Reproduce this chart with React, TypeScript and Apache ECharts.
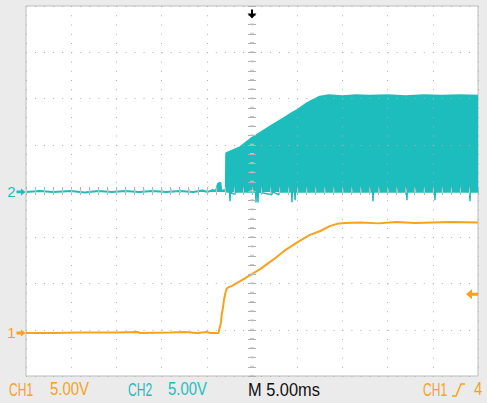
import React, { useEffect, useRef } from 'react';
import * as echarts from 'echarts';

// Scope settings
const TIME_PER_DIV_MS = 5;
const VOLTS_PER_DIV = 5;
const H_DIVS = 10;
const V_DIVS = 8;
const CH1_POSITION_DIV = -3.07; // ground marker of CH1, in divisions from screen centre
const CH2_POSITION_DIV = -0.02;
const CH1_TRIGGER_LEVEL_V = 4.2;

const CH1_COLOR = '#f6a21d';
const CH2_COLOR = '#1dbdbd';
const GRID_DOT = '#b0b0b0';
const CENTRE_TICK = '#c6c6c6';
const FONT = '"Liberation Sans", Arial, sans-serif';

// CH1 trace: [time ms, volts]
const ch1Trace: [number, number][] = [
  [-25, 0], [-22, 0], [-19, 0.05], [-15, 0.05], [-12.6, 0.1], [-12.4, 0], [-9, 0.05],
  [-7.5, 0.1], [-6, 0], [-5, 0.1], [-4.6, 0], [-3.7, 0],
  [-3.6, 0.5], [-3.45, 1.0], [-3.35, 2.0], [-3.2, 2.8], [-3.1, 3.6], [-2.95, 4.3],
  [-2.8, 4.8], [-2.6, 4.95], [-2.2, 5.1], [-1.3, 5.6], [-0.2, 6.25], [0.9, 6.9],
  [2.3, 7.9], [3.6, 8.9], [5.0, 9.8], [6.4, 10.6], [7.5, 11.0], [8.6, 11.55],
  [9.4, 11.8], [10.3, 11.9], [12, 11.95], [14, 11.85], [16, 12.0], [18, 11.9],
  [20, 11.95], [22, 12.0], [25, 11.95],
];

// CH2 trace envelope (switching band): [time ms, volts]
const ch2Envelope: [number, number][] = [
  [-25, 0], [-23.5, 0.1], [-22, 0], [-20, 0.1], [-18.5, -0.05], [-17, 0.1], [-15.5, 0],
  [-14, 0.1], [-12.5, 0], [-11, 0.1], [-9.5, 0], [-8, 0.1], [-6.5, 0], [-5.5, 0.15],
  [-4.9, 0], [-4.4, 0.2], [-4.0, 0.1], [-3.75, 0.9], [-3.5, 1.0], [-3.4, 0.1],
  [-3.1, 0.2], [-2.9, 0.1],
  [-2.85, 4.2], [-2.2, 4.45], [-1.3, 4.85], [-0.2, 5.7], [0.9, 6.4], [2.3, 7.25],
  [3.4, 7.9], [4.2, 8.4], [5.0, 8.85], [6.1, 9.6], [7.0, 10.05], [7.5, 10.3],
  [8.5, 10.45], [10, 10.35], [11.5, 10.45], [13, 10.4], [15, 10.45], [17, 10.35],
  [19, 10.45], [21, 10.4], [23, 10.45], [25, 10.4],
];

// CH2 lower edge of the band with switching spikes: [time ms, volts]
const ch2Spikes: [number, number][] = [
  [-2.85, 0], [-2.47, 0], [-2.43, -1.0], [-2.39, 0], [-1.9, -0.3], [-1.85, 0],
  [0.4, 0], [0.44, -1.15], [0.48, 0], [0.62, 0], [0.66, -1.15], [0.7, 0],
  [2.2, -0.3], [2.25, 0], [3.0, -0.3], [3.05, 0], [4.38, 0], [4.42, -1.1], [4.46, 0],
  [4.72, 0], [4.76, -0.9], [4.8, 0], [13.34, 0], [13.38, -1.0], [13.42, 0],
  [17.1, 0], [17.14, -0.9], [17.18, 0], [20.2, 0], [20.24, -0.9], [20.28, 0],
  [24.07, 0], [24.11, -1.0], [24.15, 0], [25, 0],
];

const statusTexts = [
  { text: 'CH1', x: 9, color: CH1_COLOR, scale: 0.67 },
  { text: '5.00V', x: 50, color: CH1_COLOR, scale: 0.83 },
  { text: 'CH2', x: 128, color: CH2_COLOR, scale: 0.67 },
  { text: '5.00V', x: 168, color: CH2_COLOR, scale: 0.83 },
  { text: 'M 5.00ms', x: 248, color: '#111111', scale: 0.91 },
  { text: 'CH1', x: 423, color: CH1_COLOR, scale: 0.67 },
  { text: '4', x: 474, color: CH1_COLOR, scale: 0.83 },
];

const xHalf = (H_DIVS / 2) * TIME_PER_DIV_MS;
const yHalf = V_DIVS / 2;

const tickStyle = { color: GRID_DOT, width: 1 };

function edgeX(position: 'top' | 'bottom', withGrid: boolean) {
  return {
    type: 'value',
    min: -xHalf,
    max: xHalf,
    interval: TIME_PER_DIV_MS,
    position,
    z: 3,
    axisLine: { show: false },
    axisLabel: { show: false },
    axisTick: { show: true, inside: true, length: 4, lineStyle: tickStyle },
    minorTick: { show: true, splitNumber: 5, length: 4, lineStyle: tickStyle },
    splitLine: { show: withGrid, lineStyle: { color: GRID_DOT, width: 1, type: [1, 8.25] } },
  };
}

function edgeY(position: 'left' | 'right', withGrid: boolean) {
  return {
    type: 'value',
    min: -yHalf,
    max: yHalf,
    interval: 1,
    position,
    z: 3,
    axisLine: { show: false },
    axisLabel: { show: false },
    axisTick: { show: true, inside: true, length: 4, lineStyle: tickStyle },
    minorTick: { show: true, splitNumber: 5, length: 4, lineStyle: tickStyle },
    splitLine: { show: withGrid, lineStyle: { color: GRID_DOT, width: 1, type: [1, 8.04] } },
  };
}

function channelAxis(positionDiv: number) {
  return {
    type: 'value',
    show: false,
    min: (-yHalf - positionDiv) * VOLTS_PER_DIV,
    max: (yHalf - positionDiv) * VOLTS_PER_DIV,
  };
}

const rightArrow = 'path://M0,3 L5,3 L5,0 L10,5 L5,10 L5,7 L0,7 Z';
const leftArrow = 'path://M0,5 L6,0 L6,3.5 L12,3.5 L12,6.5 L6,6.5 L6,10 Z';
const downArrow = 'path://M3.5,0 L5.5,0 L5.5,4 L9,4 L4.5,9 L0,4 L3.5,4 Z';

function buildOption() {
  return {
    animation: false,
    backgroundColor: '#ebebeb',
    grid: {
      left: 26,
      top: 6,
      width: 452,
      height: 370,
      show: true,
      backgroundColor: '#ffffff',
      borderColor: '#bdbdbd',
      borderWidth: 1,
    },
    xAxis: [edgeX('bottom', true), edgeX('top', false)],
    yAxis: [
      edgeY('left', true),
      edgeY('right', false),
      channelAxis(CH1_POSITION_DIV),
      channelAxis(CH2_POSITION_DIV),
    ],
    graphic: [
      ...statusTexts.map((t) => ({
        type: 'text',
        x: t.x,
        y: 389.5,
        scaleX: t.scale,
        style: {
          text: t.text,
          fill: t.color,
          font: `18px ${FONT}`,
          verticalAlign: 'middle',
        },
      })),
      {
        type: 'polyline',
        shape: { points: [[452, 396], [456, 396], [461, 384], [465, 384]] },
        style: { stroke: CH1_COLOR, lineWidth: 1.5, fill: 'none' },
      },
    ],
    series: [
      {
        name: 'CH2',
        type: 'line',
        xAxisIndex: 0,
        yAxisIndex: 3,
        data: ch2Envelope,
        showSymbol: false,
        lineStyle: { color: CH2_COLOR, width: 2 },
        areaStyle: { color: CH2_COLOR, opacity: 1 },
        z: 2,
        markPoint: {
          silent: true,
          data: [
            {
              coord: [-xHalf, 0],
              symbol: rightArrow,
              symbolSize: [9, 7],
              symbolOffset: [-5, 0],
              itemStyle: { color: CH2_COLOR },
              label: {
                show: true,
                formatter: '2',
                position: 'left',
                distance: 1,
                color: CH2_COLOR,
                fontSize: 15,
                fontFamily: FONT,
              },
            },
          ],
        },
      },
      {
        name: 'CH2 band floor',
        type: 'line',
        xAxisIndex: 0,
        yAxisIndex: 3,
        data: ch2Spikes,
        showSymbol: false,
        lineStyle: { color: CH2_COLOR, width: 1.5 },
        z: 2,
      },
      {
        name: 'CH1',
        type: 'line',
        xAxisIndex: 0,
        yAxisIndex: 2,
        data: ch1Trace,
        showSymbol: false,
        lineStyle: { color: CH1_COLOR, width: 2 },
        z: 2,
        markPoint: {
          silent: true,
          data: [
            {
              coord: [-xHalf, 0],
              symbol: rightArrow,
              symbolSize: [9, 7],
              symbolOffset: [-5, 0],
              itemStyle: { color: CH1_COLOR },
              label: {
                show: true,
                formatter: '1',
                position: 'left',
                distance: 1,
                color: CH1_COLOR,
                fontSize: 15,
                fontFamily: FONT,
              },
            },
            {
              coord: [xHalf, CH1_TRIGGER_LEVEL_V],
              symbol: leftArrow,
              symbolSize: [12, 10],
              symbolOffset: [-6, 0],
              itemStyle: { color: CH1_COLOR },
              label: { show: false },
            },
          ],
        },
      },
      {
        name: 'graticule centre',
        type: 'line',
        xAxisIndex: 0,
        yAxisIndex: 0,
        data: [[0, 0]],
        showSymbol: false,
        lineStyle: { opacity: 0 },
        z: 1,
        markLine: {
          silent: true,
          symbol: 'none',
          label: { show: false },
          data: [
            { xAxis: 0, lineStyle: { color: CENTRE_TICK, width: 4, type: [1, 8.25] } },
            { yAxis: 0, lineStyle: { color: CENTRE_TICK, width: 4, type: [1, 8.04] } },
          ],
        },
        markPoint: {
          silent: true,
          data: [
            {
              coord: [0, yHalf],
              symbol: downArrow,
              symbolSize: [9, 9],
              symbolOffset: [0, 8],
              itemStyle: { color: '#000000' },
              label: { show: false },
            },
          ],
        },
      },
    ],
  };
}

export default function App() {
  const ref = useRef<HTMLDivElement>(null);
  useEffect(() => {
    const chart = echarts.init(ref.current!, null, { renderer: 'svg' });
    chart.setOption(buildOption() as any);
    return () => chart.dispose();
  }, []);
  return (
    <div
      ref={ref}
      style={{ position: 'absolute', left: 0, top: 0, width: 487, height: 403 }}
    />
  );
}
